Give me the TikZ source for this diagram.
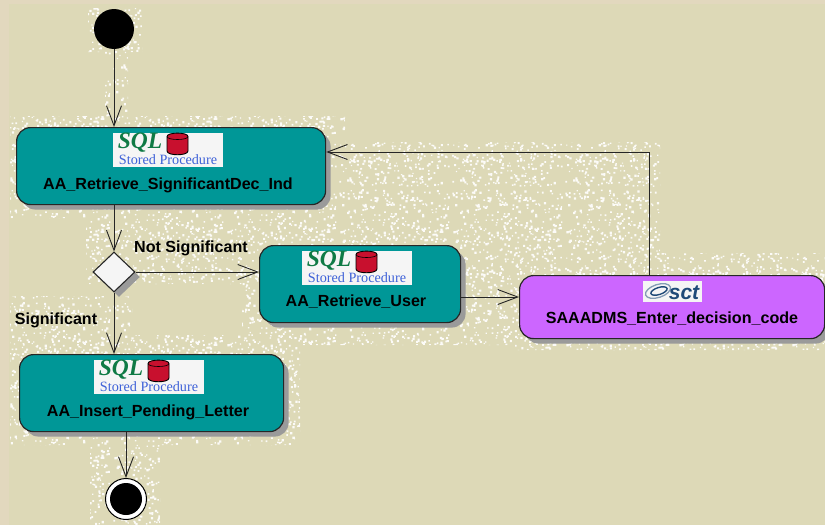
\documentclass[tikz,border=0pt]{standalone}
\usepackage{fontspec}
\setmainfont{Liberation Sans}
\newfontfamily\iconserif{Liberation Serif}
\usetikzlibrary{arrows.meta,shapes.geometric,shadows,patterns}
\definecolor{paper}{HTML}{DDD9B7}
\definecolor{rim}{HTML}{E2D8BE}
\definecolor{tealbox}{HTML}{009797}
\definecolor{violetbox}{HTML}{CC66FF}
\definecolor{shadowgray}{HTML}{9A9A9A}
\definecolor{sqlgreen}{HTML}{0F7A45}
\definecolor{spblue}{HTML}{3F62D8}
\definecolor{drumred}{HTML}{C8102E}
\definecolor{sctblue}{HTML}{1F4A78}
\pgfmathsetseed{4217}
\pgfdeclarepatternformonly{speck}{\pgfqpoint{0pt}{0pt}}{\pgfqpoint{113pt}{113pt}}{\pgfqpoint{113pt}{113pt}}{%
  \foreach \i in {1,...,520}{%
    \pgfmathsetmacro{\px}{rnd*110}%
    \pgfmathsetmacro{\py}{rnd*110}%
    \pgfmathsetmacro{\ps}{1.2+rnd*1.1}%
    \pgfpathrectangle{\pgfqpoint{\px pt}{\py pt}}{\pgfqpoint{\ps pt}{\ps pt}}%
  }%
  \pgfusepath{fill}%
}
\tikzset{
  x=1pt,y=-1pt,
  flow/.style={draw=black!85,line width=0.9pt,-{Straight Barb[length=20pt,width=15pt,line width=0.9pt]}},
  actbox/.style={rectangle,rounded corners=14pt,draw=black!85,line width=1.2pt,inner sep=0pt,anchor=north west,
    copy shadow={draw=none,fill=shadowgray,shadow xshift=5pt,shadow yshift=-5pt}},
  sqlact/.style={actbox,fill=tealbox},
  tool/.style={actbox,fill=violetbox},
  caption/.style={font=\bfseries\fontsize{16.1}{18}\selectfont,text=black,inner sep=0pt},
  iconbg/.style={fill=white!96!black,draw=none,rectangle,inner sep=0pt,anchor=north west},
}
\newcommand{\sqlicon}[3]{%
  \begin{scope}[shift={(#2,#3)}]
    \node[iconbg,minimum width=110pt,minimum height=34pt] (#1) at (0,0) {};
    \node[inner sep=0pt,text=sqlgreen,font=\iconserif\bfseries\itshape\fontsize{23.5}{24}\selectfont] (#1sql) at (27,9.5) {SQL};
    \node[inner sep=0pt,text=spblue,font=\iconserif\fontsize{14.2}{15}\selectfont] (#1sp) at (55,27) {Stored Procedure};
    \fill[drumred,draw=black,line width=0.9pt] (54,3.5) -- (54,18) .. controls (54,23) and (75,23) .. (75,18) -- (75,3.5) .. controls (75,-1) and (54,-1) .. (54,3.5) -- cycle;
    \draw[black,line width=0.6pt] (54,3.5) .. controls (54,7.5) and (75,7.5) .. (75,3.5);
  \end{scope}}
\begin{document}
\begin{tikzpicture}
\useasboundingbox (0,0) rectangle (825,525);
\fill[rim] (0,0) rectangle (825,525);
\fill[paper] (9,4) rectangle (825,525);
% speckled ground
\begin{scope}
  \clip (88,8) rectangle (142,52)
        (105,50) rectangle (128,125)
        (10,116) rectangle (345,218)
        (340,142) rectangle (660,275)
        (86,215) rectangle (262,284)
        (242,215) rectangle (345,345)
        (340,270) rectangle (522,345)
        (515,253) rectangle (825,350)
        (10,296) rectangle (132,350)
        (10,335) rectangle (300,445)
        (90,440) rectangle (160,525);
  \fill[pattern=speck,pattern color=white!90!paper] (0,0) rectangle (825,525);
\end{scope}
% nodes
\node[circle,fill=black,inner sep=0pt,minimum size=40pt] (start) at (114,29) {};
\node[sqlact,minimum width=309pt,minimum height=77pt] (box1) at (16,127) {};
\node[sqlact,minimum width=201pt,minimum height=77pt] (box2) at (259,245) {};
\node[tool,minimum width=305pt,minimum height=63pt] (box3) at (519,275) {};
\node[sqlact,minimum width=264pt,minimum height=77pt] (box4) at (19,354) {};
\node[diamond,aspect=1,draw=black!85,fill=white!96!black,line width=1.1pt,inner sep=0pt,minimum width=42pt,minimum height=40pt,
  copy shadow={draw=none,fill=shadowgray,shadow xshift=5pt,shadow yshift=-5pt}] (dec) at (114,272) {};
\node[circle,draw=black,fill=white,line width=1pt,inner sep=0pt,minimum size=41pt] (endo) at (126,499) {};
\node[circle,fill=black,inner sep=0pt,minimum size=32pt] (endi) at (126,499) {};
% helper coordinates
\coordinate (turn) at (649,152);
\coordinate (lev) at (490,297);
% connectors
\draw[flow] (start) -- (start |- box1.north);
\draw[flow] (dec |- box1.south) -- (dec.north);
\draw[flow] (dec.east) -- (dec -| box2.west);
\draw[flow] (dec.south) -- (dec |- box4.north);
\draw[flow] (lev -| box2.east) -- (lev -| box3.west);
\draw[flow] (turn |- box3.north) -- (turn) -- (turn -| box1.east);
\draw[flow] (endo |- box4.south) -- (endo.north);
% icons
\sqlicon{icona}{113}{133}
\sqlicon{iconb}{302}{251}
\sqlicon{iconc}{94}{360}
\node[iconbg,minimum width=59pt,minimum height=21pt] (sct) at (643,281) {};
\begin{scope}
  \draw[sctblue!55,line width=1.3pt,rotate around={18:(658,291)}] (658,291) ellipse[x radius=13pt,y radius=6.5pt];
  \draw[sctblue,line width=1.4pt,rotate around={18:(659,291)}] (659,291) ellipse[x radius=8.5pt,y radius=3.5pt];
\end{scope}
\node[inner sep=0pt,text=sctblue,font=\bfseries\itshape\fontsize{21}{21}\selectfont] (scttext) at (684,292.5) {sct};
% labels
\node[caption] (t1) at (168,185) {AA\_Retrieve\_SignificantDec\_Ind};
\node[caption] (t2) at (356,302) {AA\_Retrieve\_User};
\node[caption] (t3) at (672,319) {SAAADMS\_Enter\_decision\_code};
\node[caption] (t4) at (148,412) {AA\_Insert\_Pending\_Letter};
\node[caption] (l1) at (191,248) {Not Significant};
\node[caption] (l2) at (56,320) {Significant};
\end{tikzpicture}
\end{document}
